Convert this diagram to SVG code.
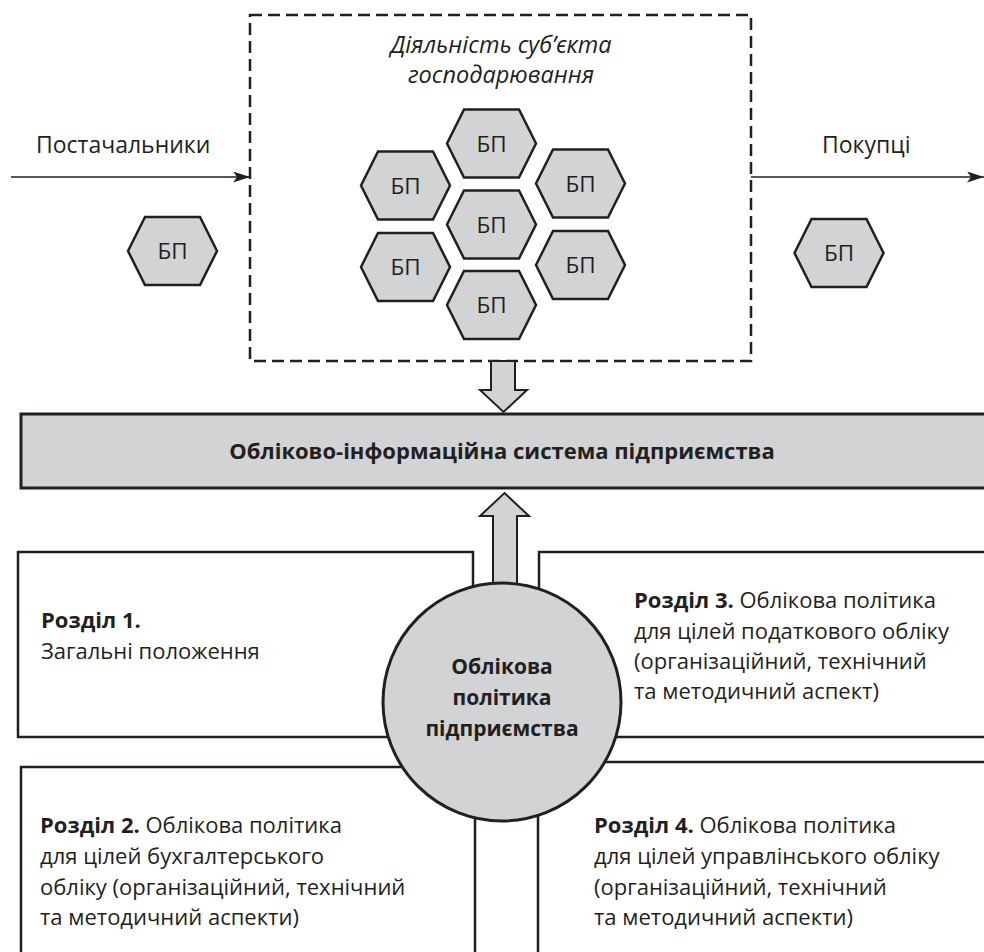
<svg xmlns="http://www.w3.org/2000/svg" width="984" height="952" viewBox="0 0 984 952">
<defs>
<style>
.t{font-family:"Open Sans","Noto Sans","Liberation Sans",sans-serif;fill:#231f20;font-size:22px}
.lab{font-size:23px}
.hxt{font-size:22.5px}
.ttl{font-size:23.5px}
.ct{font-size:21px}
.b{font-weight:bold}
.i{font-style:italic}
.c{text-anchor:middle}
.hex{fill:#d1d3d4;stroke:#231f20;stroke-width:2.5;stroke-linejoin:miter}
.box{fill:#fff;stroke:#231f20;stroke-width:2.5}
.grey{fill:#d1d3d4;stroke:#231f20;stroke-width:3}
.ln{fill:none;stroke:#231f20;stroke-width:1.3}
</style>
<marker id="ah" viewBox="0 0 17 11" refX="17" refY="5.5" markerWidth="17" markerHeight="11" markerUnits="userSpaceOnUse" orient="auto">
<path d="M0,0 L17,5.5 L0,11 L4,5.5 Z" fill="#231f20"/>
</marker>
<polygon id="hx" points="-44.5,0 -27.5,-34 27.5,-34 44.5,0 27.5,34 -27.5,34"/>
</defs>
<rect width="984" height="952" fill="#fff"/>

<g id="activity">
<rect x="250" y="15" width="501" height="346" fill="none" stroke="#231f20" stroke-width="2.5" stroke-dasharray="12,6"/>
<text class="t ttl i c" x="501" y="53">Діяльність суб’єкта</text>
<text class="t ttl i c" x="501" y="83">господарювання</text>
</g>

<g id="connectors">
<line class="ln" x1="11" y1="177" x2="250" y2="177" marker-end="url(#ah)"/>
<line class="ln" x1="751" y1="177" x2="984" y2="177" marker-end="url(#ah)"/>
<polygon points="491,361 491,390 480,390 503.5,412 527,390 515,390 515,361" fill="#d1d3d4" stroke="#231f20" stroke-width="2"/>
<polygon points="493,590 493,516 480,516 504.5,493 529,516 517,516 517,590" fill="#d1d3d4" stroke="#231f20" stroke-width="2"/>
</g>

<g id="suppliers"><text class="t lab" x="36" y="153">Постачальники</text></g>
<g id="buyers"><text class="t lab" x="822" y="153">Покупці</text></g>

<g id="bp-left"><use href="#hx" class="hex" x="172.5" y="251"/><text class="t hxt c" x="172.5" y="259">БП</text></g>
<g id="bp-right"><use href="#hx" class="hex" x="839" y="253"/><text class="t hxt c" x="839" y="261">БП</text></g>
<g id="bp-1"><use href="#hx" class="hex" x="491.5" y="143.5"/><text class="t hxt c" x="491.5" y="151.5">БП</text></g>
<g id="bp-2"><use href="#hx" class="hex" x="405.5" y="185.5"/><text class="t hxt c" x="405.5" y="193.5">БП</text></g>
<g id="bp-3"><use href="#hx" class="hex" x="580.5" y="183.5"/><text class="t hxt c" x="580.5" y="191.5">БП</text></g>
<g id="bp-4"><use href="#hx" class="hex" x="491.5" y="224.5"/><text class="t hxt c" x="491.5" y="232.5">БП</text></g>
<g id="bp-5"><use href="#hx" class="hex" x="405.5" y="267"/><text class="t hxt c" x="405.5" y="275">БП</text></g>
<g id="bp-6"><use href="#hx" class="hex" x="580.5" y="265"/><text class="t hxt c" x="580.5" y="273">БП</text></g>
<g id="bp-7"><use href="#hx" class="hex" x="491.5" y="305"/><text class="t hxt c" x="491.5" y="313">БП</text></g>

<g id="ais">
<rect class="grey" x="21" y="414" width="975" height="74"/>
<text class="t b c" x="502" y="459">Обліково-інформаційна система підприємства</text>
</g>

<g id="section1">
<rect class="box" x="18" y="552" width="455" height="185"/>
<text class="t" x="41" y="628"><tspan class="b">Розділ 1.</tspan></text>
<text class="t" x="41" y="659">Загальні положення</text>
</g>

<g id="section3">
<rect class="box" x="539" y="552" width="460" height="185"/>
<text class="t" x="634" y="608"><tspan class="b">Розділ 3.</tspan> Облікова політика</text>
<text class="t" x="634" y="639">для цілей податкового обліку</text>
<text class="t" x="634" y="669">(організаційний, технічний</text>
<text class="t" x="634" y="699">та методичний аспект)</text>
</g>

<g id="section2">
<rect class="box" x="21" y="767" width="454" height="200"/>
<text class="t" x="40" y="833"><tspan class="b">Розділ 2.</tspan> Облікова політика</text>
<text class="t" x="40" y="864">для цілей бухгалтерського</text>
<text class="t" x="40" y="895">обліку (організаційний, технічний</text>
<text class="t" x="40" y="925">та методичний аспекти)</text>
</g>

<g id="section4">
<rect class="box" x="538" y="762" width="460" height="205"/>
<text class="t" x="594" y="833"><tspan class="b">Розділ 4.</tspan> Облікова політика</text>
<text class="t" x="594" y="864">для цілей управлінського обліку</text>
<text class="t" x="594" y="895">(організаційний, технічний</text>
<text class="t" x="594" y="925">та методичний аспекти)</text>
</g>

<g id="policy">
<circle cx="502" cy="702" r="119" fill="#d1d3d4" stroke="#231f20" stroke-width="3"/>
<text class="t ct b c" x="502" y="674">Облікова</text>
<text class="t ct b c" x="502" y="705">політика</text>
<text class="t ct b c" x="502" y="736">підприємства</text>
</g>
</svg>
